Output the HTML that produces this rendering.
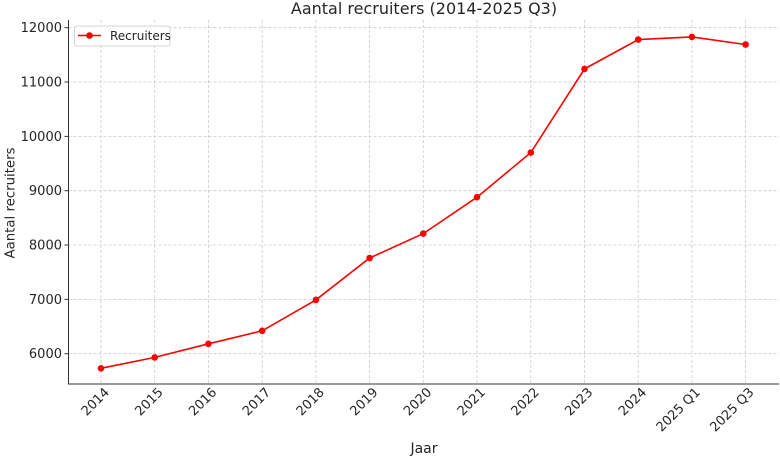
<!DOCTYPE html>
<html><head><meta charset="utf-8"><style>
html,body{margin:0;padding:0;background:#fff;}
svg{display:block;font-family:"DejaVu Sans","Liberation Sans",sans-serif;}
</style></head><body>
<svg width="780" height="458" viewBox="0 0 780 458" xmlns="http://www.w3.org/2000/svg">
<rect width="780" height="458" fill="#fff"/>
<text x="424" y="14" font-size="16" text-anchor="middle" fill="#262626">Aantal recruiters (2014-2025 Q3)</text>
<g stroke="#cccccc" stroke-width="0.8" stroke-dasharray="3,2">
<line x1="68.5" x2="779" y1="27.7" y2="27.7"/>
<line x1="68.5" x2="779" y1="82" y2="82"/>
<line x1="68.5" x2="779" y1="136.4" y2="136.4"/>
<line x1="68.5" x2="779" y1="190.7" y2="190.7"/>
<line x1="68.5" x2="779" y1="245" y2="245"/>
<line x1="68.5" x2="779" y1="299.4" y2="299.4"/>
<line x1="68.5" x2="779" y1="353.7" y2="353.7"/>
<line x1="101" x2="101" y1="20" y2="384"/>
<line x1="154.7" x2="154.7" y1="20" y2="384"/>
<line x1="208.4" x2="208.4" y1="20" y2="384"/>
<line x1="262.2" x2="262.2" y1="20" y2="384"/>
<line x1="315.9" x2="315.9" y1="20" y2="384"/>
<line x1="369.6" x2="369.6" y1="20" y2="384"/>
<line x1="423.3" x2="423.3" y1="20" y2="384"/>
<line x1="477" x2="477" y1="20" y2="384"/>
<line x1="530.8" x2="530.8" y1="20" y2="384"/>
<line x1="584.5" x2="584.5" y1="20" y2="384"/>
<line x1="638.2" x2="638.2" y1="20" y2="384"/>
<line x1="691.9" x2="691.9" y1="20" y2="384"/>
<line x1="745.6" x2="745.6" y1="20" y2="384"/>
</g>
<g stroke="#333" stroke-width="1">
<line x1="68.5" x2="68.5" y1="20" y2="384.5"/>
<line x1="68" x2="779" y1="384" y2="384"/>
</g>
<g stroke="#333" stroke-width="1">
<line x1="64.5" x2="68.5" y1="27.7" y2="27.7"/><line x1="64.5" x2="68.5" y1="82" y2="82"/><line x1="64.5" x2="68.5" y1="136.4" y2="136.4"/><line x1="64.5" x2="68.5" y1="190.7" y2="190.7"/><line x1="64.5" x2="68.5" y1="245" y2="245"/><line x1="64.5" x2="68.5" y1="299.4" y2="299.4"/><line x1="64.5" x2="68.5" y1="353.7" y2="353.7"/>
</g>
<g font-size="13" fill="#262626" text-anchor="end">
<text x="62" y="32.2">12000</text>
<text x="62" y="86.5">11000</text>
<text x="62" y="140.9">10000</text>
<text x="62" y="195.2">9000</text>
<text x="62" y="249.5">8000</text>
<text x="62" y="303.9">7000</text>
<text x="62" y="358.2">6000</text>
</g>
<g font-size="13" fill="#262626" text-anchor="end">
<text transform="translate(110,393) rotate(-45)">2014</text>
<text transform="translate(163.7,393) rotate(-45)">2015</text>
<text transform="translate(217.4,393) rotate(-45)">2016</text>
<text transform="translate(271.2,393) rotate(-45)">2017</text>
<text transform="translate(324.9,393) rotate(-45)">2018</text>
<text transform="translate(378.6,393) rotate(-45)">2019</text>
<text transform="translate(432.3,393) rotate(-45)">2020</text>
<text transform="translate(486,393) rotate(-45)">2021</text>
<text transform="translate(539.8,393) rotate(-45)">2022</text>
<text transform="translate(593.5,393) rotate(-45)">2023</text>
<text transform="translate(647.2,393) rotate(-45)">2024</text>
<text transform="translate(700.9,393) rotate(-45)">2025 Q1</text>
<text transform="translate(754.6,393) rotate(-45)">2025 Q3</text>
</g>
<text x="424" y="453" font-size="14" text-anchor="middle" fill="#262626">Jaar</text>
<text transform="translate(14.5,203) rotate(-90)" font-size="13.3" text-anchor="middle" fill="#262626">Aantal recruiters</text>
<polyline fill="none" stroke="#ff0000" stroke-width="1.6" points="101,368.3 154.7,357.4 208.4,343.8 262.2,330.8 315.9,299.9 369.6,258.0 423.3,233.6 477,197.2 530.8,152.6 584.5,68.9 638.2,39.6 691.9,36.9 745.6,44.5"/>
<g fill="#ff0000">
<circle cx="101" cy="368.3" r="3.3"/><circle cx="154.7" cy="357.4" r="3.3"/><circle cx="208.4" cy="343.8" r="3.3"/><circle cx="262.2" cy="330.8" r="3.3"/><circle cx="315.9" cy="299.9" r="3.3"/><circle cx="369.6" cy="258.0" r="3.3"/><circle cx="423.3" cy="233.6" r="3.3"/><circle cx="477" cy="197.2" r="3.3"/><circle cx="530.8" cy="152.6" r="3.3"/><circle cx="584.5" cy="68.9" r="3.3"/><circle cx="638.2" cy="39.6" r="3.3"/><circle cx="691.9" cy="36.9" r="3.3"/><circle cx="745.6" cy="44.5" r="3.3"/>
</g>
<rect x="74.5" y="26" width="95.5" height="20" rx="2" fill="#fff" fill-opacity="0.8" stroke="#d5d5d5" stroke-width="1"/>
<line x1="78" x2="101" y1="35.5" y2="35.5" stroke="#ff0000" stroke-width="1.6"/>
<circle cx="89.5" cy="35.5" r="3.3" fill="#ff0000"/>
<text x="110" y="40" font-size="12" fill="#262626">Recruiters</text>
</svg>
</body></html>
